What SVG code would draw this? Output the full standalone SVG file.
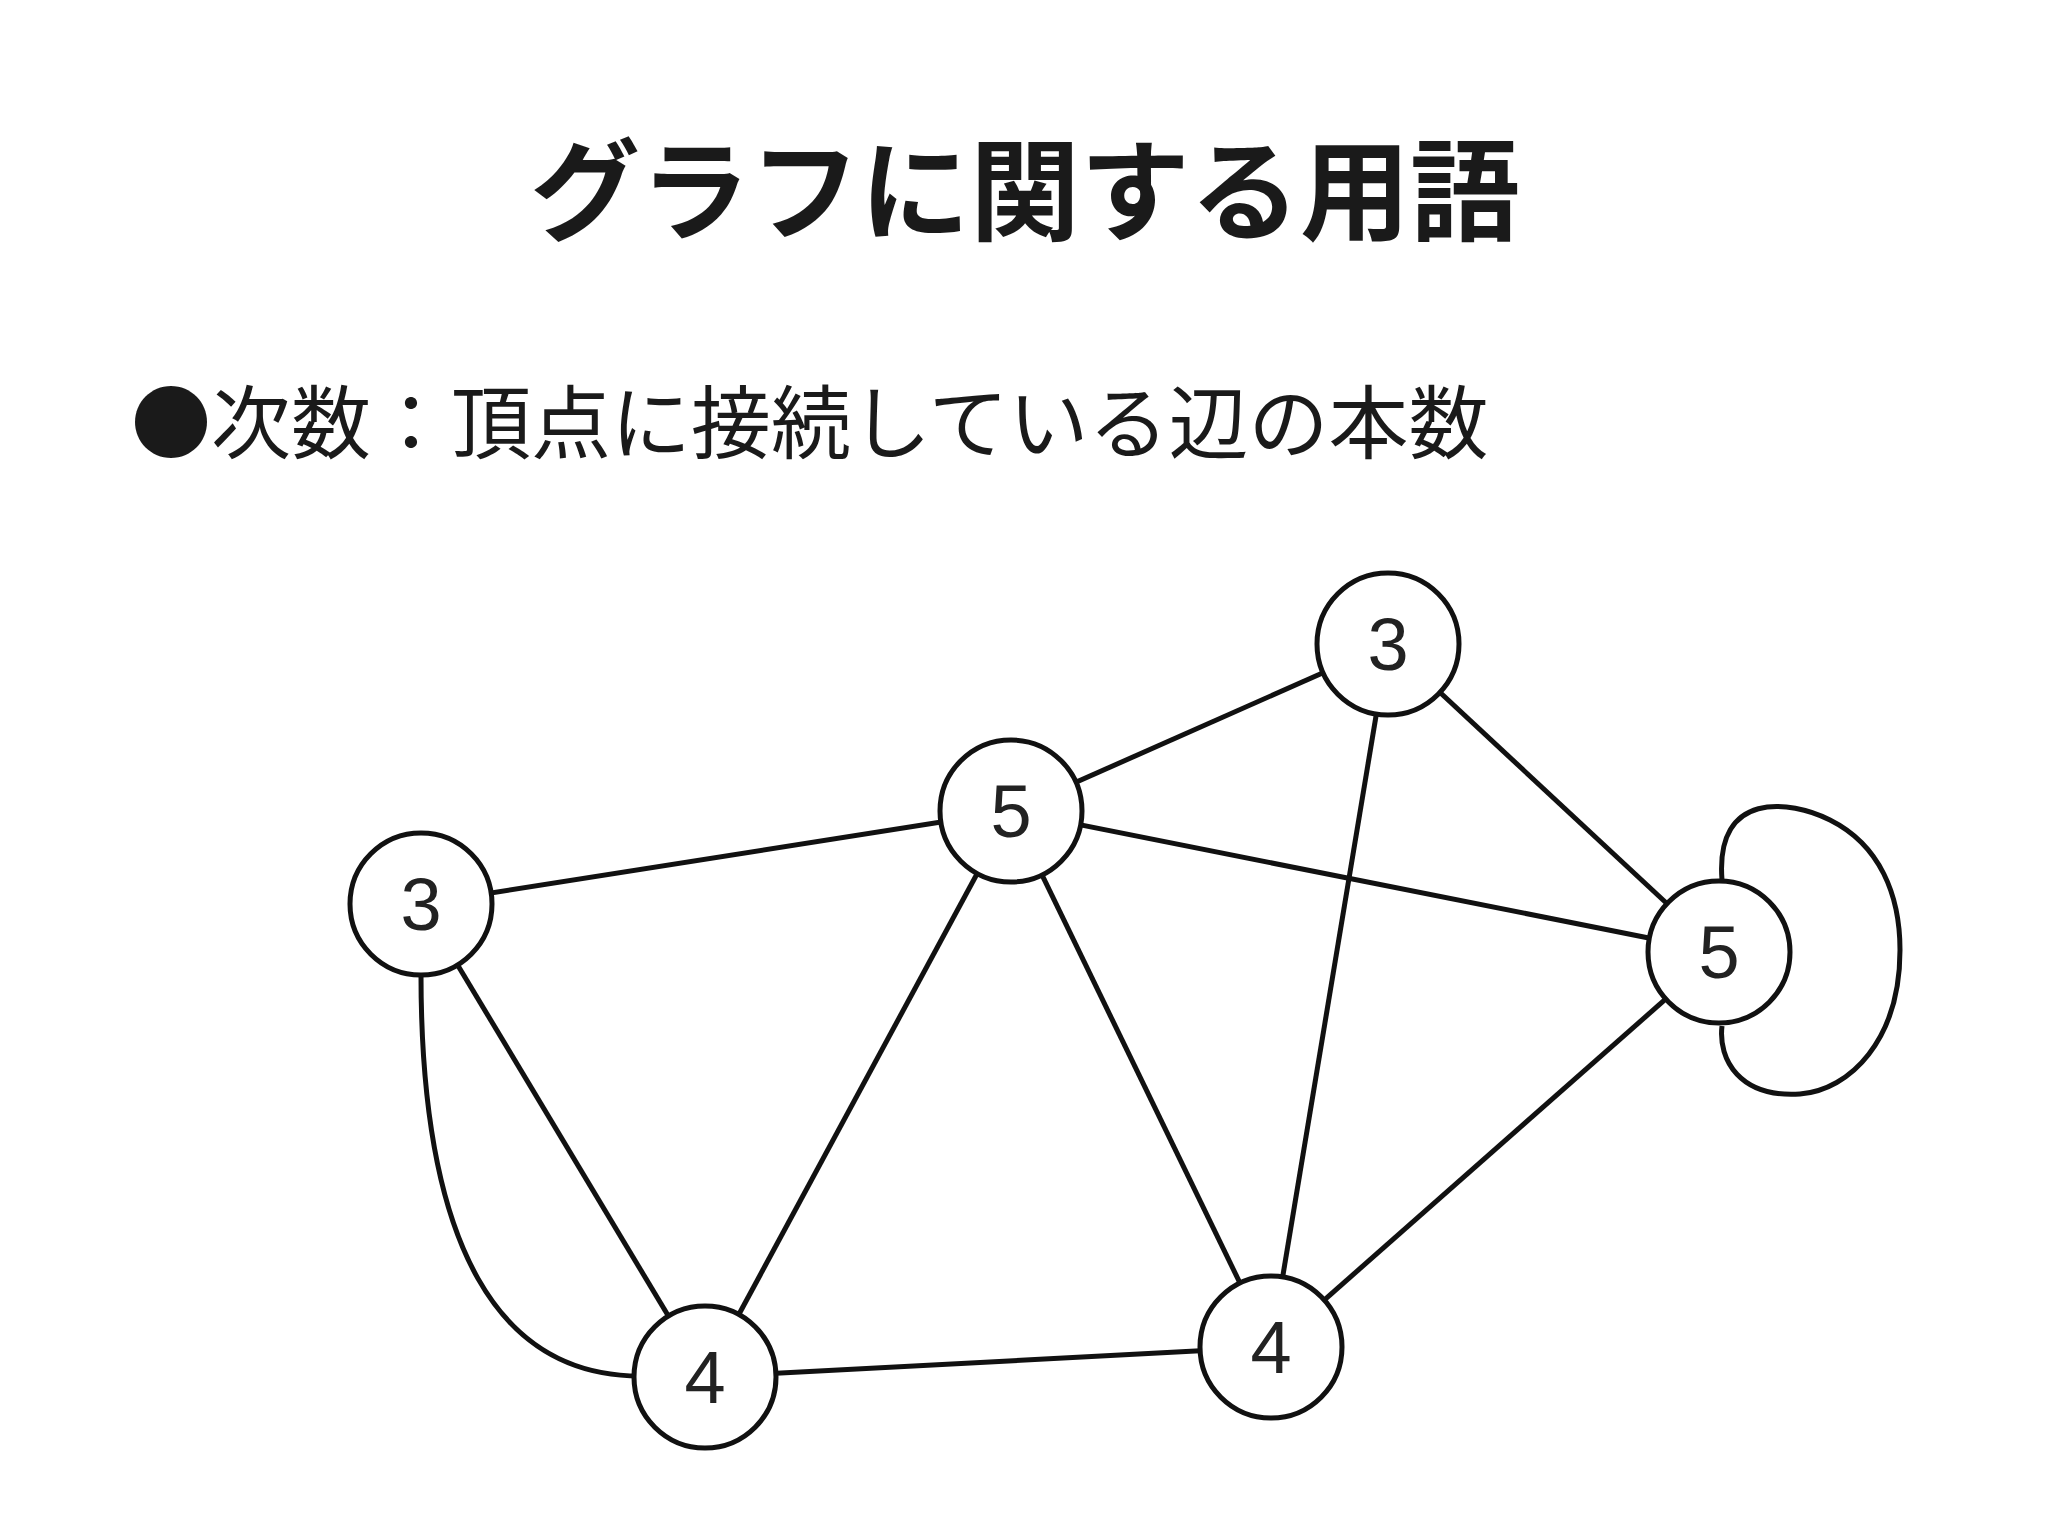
<svg xmlns="http://www.w3.org/2000/svg" width="2048" height="1535" viewBox="0 0 2048 1535">
<style>
.e{stroke:#111;stroke-width:5;fill:none}
.n circle{fill:#fff;stroke:#111;stroke-width:5}
.n text{font-family:"Liberation Sans",Arial,sans-serif;font-size:74px;fill:#222;text-anchor:middle}
.t{font-family:"Noto Sans CJK JP",sans-serif;fill:#1a1a1a}
</style>
<rect width="2048" height="1535" fill="#fff"/>
<text class="t" x="1025" y="232" font-size="110" font-weight="bold" text-anchor="middle">グラフに関する用語</text>
<text class="t" x="131" y="452" font-size="80">●次数：頂点に接続している辺の本数</text>
<g id="edges">
<line class="e" x1="421" y1="904" x2="1011" y2="811"/>
<line class="e" x1="421" y1="904" x2="705" y2="1377"/>
<path class="e" d="M421,975 C421,1250 500,1376 640,1376"/>
<line class="e" x1="1011" y1="811" x2="1388" y2="644"/>
<line class="e" x1="1011" y1="811" x2="1719" y2="952"/>
<line class="e" x1="1011" y1="811" x2="705" y2="1377"/>
<line class="e" x1="1011" y1="811" x2="1271" y2="1347"/>
<line class="e" x1="1388" y1="644" x2="1719" y2="952"/>
<line class="e" x1="1388" y1="644" x2="1271" y2="1347"/>
<line class="e" x1="1719" y1="952" x2="1271" y2="1347"/>
<line class="e" x1="705" y1="1377" x2="1271" y2="1347"/>
<path class="e" d="M1722,880 C1715,790 1790,800 1830,820 C1880,845 1900,895 1900,950 C1900,1040 1850,1090 1800,1094 C1740,1098 1718,1060 1722,1026"/>
</g>
<g id="nA" class="n"><circle cx="421" cy="904" r="71"/><text x="421" y="930">3</text></g>
<g id="nB" class="n"><circle cx="1011" cy="811" r="71"/><text x="1011" y="837">5</text></g>
<g id="nC" class="n"><circle cx="1388" cy="644" r="71"/><text x="1388" y="670">3</text></g>
<g id="nD" class="n"><circle cx="1719" cy="952" r="71"/><text x="1719" y="978">5</text></g>
<g id="nE" class="n"><circle cx="705" cy="1377" r="71"/><text x="705" y="1403">4</text></g>
<g id="nF" class="n"><circle cx="1271" cy="1347" r="71"/><text x="1271" y="1373">4</text></g>
</svg>
